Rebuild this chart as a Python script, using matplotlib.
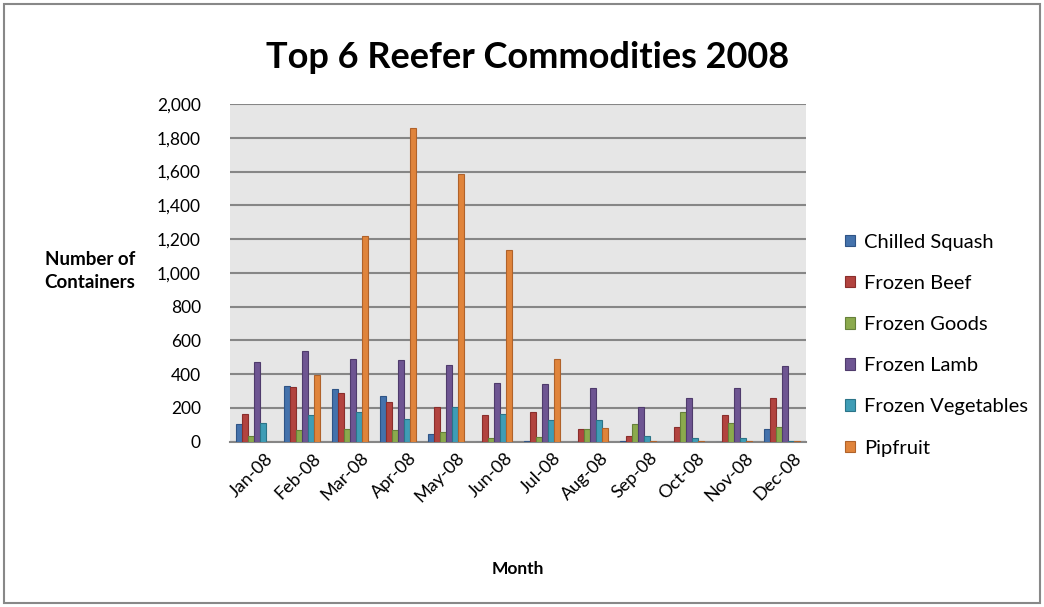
import matplotlib
matplotlib.use("Agg")
import matplotlib.pyplot as plt
import numpy as np
from matplotlib.patches import Rectangle
from matplotlib.ticker import FuncFormatter

plt.rcParams["font.family"] = ["Lato", "DejaVu Sans"]

months = ["Jan-08", "Feb-08", "Mar-08", "Apr-08", "May-08", "Jun-08",
          "Jul-08", "Aug-08", "Sep-08", "Oct-08", "Nov-08", "Dec-08"]
series = ["Chilled Squash", "Frozen Beef", "Frozen Goods",
          "Frozen Lamb", "Frozen Vegetables", "Pipfruit"]

chilled_squash = [103, 330, 310, 270, 44, 0, 4, 0, 4, 0, 0, 75]
frozen_beef = [164, 324, 286, 233, 204, 158, 174, 73, 34, 87, 158, 257]
frozen_goods = [34, 67, 73, 67, 57, 20, 28, 73, 107, 176, 111, 87]
frozen_lamb = [474, 535, 488, 484, 452, 346, 340, 316, 205, 259, 318, 446]
frozen_veg = [109, 158, 174, 133, 204, 164, 128, 128, 34, 20, 20, 4]
pipfruit = [0, 393, 1218, 1858, 1583, 1133, 488, 79, 4, 5, 4, 4]

values = [chilled_squash, frozen_beef, frozen_goods, frozen_lamb, frozen_veg, pipfruit]
colors = ["#4472AC", "#B2433F", "#8BAA4D", "#6E5592", "#3F9DB6", "#E0843B"]
edges = ["#2F5486", "#8A2E2C", "#66803A", "#4F3B6C", "#2B7488", "#B0622A"]

fig = plt.figure(figsize=(10.44, 6.07), dpi=100)
ax = fig.add_axes([0.2203, 0.2723, 0.552, 0.5564])
ax.set_facecolor("#E6E6E6")

x = np.arange(len(months))
w = 0.125
handles = []
for i, (vals, c, e) in enumerate(zip(values, colors, edges)):
    b = ax.bar(x - 0.375 + w * (i + 0.5), vals, width=w, color=c,
               edgecolor=e, linewidth=0.8, label=series[i], zorder=3)
    handles.append(b)

ax.set_xlim(-0.5, len(months) - 0.5)
ax.set_ylim(0, 2000)
ax.set_yticks(range(0, 2001, 200))
ax.yaxis.set_major_formatter(FuncFormatter(lambda v, p: "{:,.0f}".format(v)))
ax.grid(axis="y", color="#868686", linewidth=1.5, zorder=1)
ax.set_axisbelow(True)

for s in ["left", "right", "top"]:
    ax.spines[s].set_visible(False)
ax.spines["bottom"].set_color("#868686")
ax.spines["bottom"].set_linewidth(1.5)

ax.tick_params(axis="y", length=0, pad=21, labelsize=12.5)
ax.tick_params(axis="x", length=0, pad=6, labelsize=13)
ax.set_xticks(x + 0.22)
ax.set_xticklabels(months, rotation=45, ha="right", va="top", rotation_mode="anchor")

ax.set_xlabel("Month", fontsize=12.5, fontweight="bold", labelpad=40)
fig.text(0.086, 0.553, "Number of\nContainers", ha="center", va="center",
         fontsize=13.5, fontweight="bold", linespacing=1.45)

fig.text(0.505, 0.906, "Top 6 Reefer Commodities 2008", ha="center", va="center",
         fontsize=26, fontweight="bold")

ax.legend(handles=handles, labels=series, loc="center left",
          bbox_to_anchor=(1.035, 0.286), frameon=False, fontsize=14.5,
          handlelength=0.5, handleheight=0.5, handletextpad=0.45,
          labelspacing=1.2)

fig.add_artist(Rectangle((0.004, 0.006), 0.992, 0.988, transform=fig.transFigure,
                         fill=False, edgecolor="#888888", linewidth=1.5))

fig.savefig("out.png", dpi=100)
